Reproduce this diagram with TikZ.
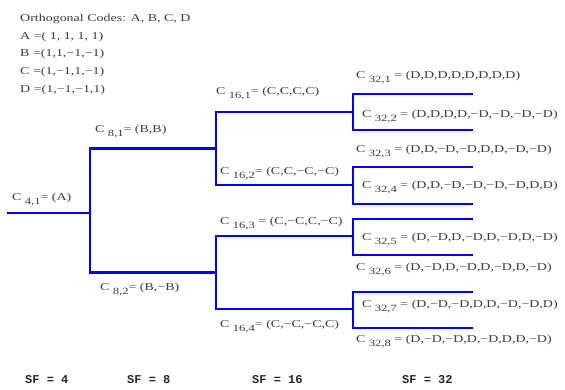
\documentclass[tikz,border=0pt]{standalone}
\usepackage{fontspec}
\setmainfont{Liberation Serif}
\newfontfamily\sfmono{Liberation Mono}
\usepackage{graphicx}
\definecolor{treeblue}{RGB}{0,0,255}
\definecolor{labelgray}{RGB}{60,60,60}
% stretched serif text used for all code labels
\newcommand{\wide}[1]{\scalebox{1.33}[1]{#1}}
% code label: C, lowered index, then the sequence
\newcommand{\code}[2]{\wide{C\hspace{2.5pt}\raisebox{-4pt}{\fontsize{9.5}{10}\selectfont #1}#2}}
\tikzset{
  branch/.style={draw=treeblue, line width=2.8pt, line join=miter},
  rootline/.style={draw=treeblue, line width=1.7pt},
  lbl/.style={anchor=base west, inner sep=0pt, text=labelgray, font=\fontsize{10.5}{12}\selectfont},
  sflbl/.style={anchor=base west, inner sep=0pt, text=black!85, font=\sfmono\bfseries\fontsize{12}{14}\selectfont},
}
\begin{document}
\begin{tikzpicture}[x=1pt, y=-1pt]
\useasboundingbox (0,0) rectangle (565,389);

% legend of the four orthogonal codes
\node[lbl] (legT) at (20,21) {\wide{Orthogonal Codes: A, B, C, D}};
\node[lbl] (legA) at (20,39) {\wide{A =( 1, 1, 1, 1)}};
\node[lbl] (legB) at (20,56) {\wide{B =(1,1,−1,−1)}};
\node[lbl] (legC) at (20,74) {\wide{C =(1,−1,1,−1)}};
\node[lbl] (legD) at (20,92) {\wide{D =(1,−1,−1,1)}};

% junctions of the code tree
\coordinate (r0) at (7,213);
\coordinate (j4) at (90,213);
\coordinate (j8a) at (216,148.5);
\coordinate (j8b) at (216,272.5);
\coordinate (k1) at (353,112);
\coordinate (k2) at (353,185);
\coordinate (k3) at (353,236);
\coordinate (k4) at (353,309);
% leaf ends
\coordinate (l1) at (473,94);
\coordinate (l2) at (473,130);
\coordinate (l3) at (473,167);
\coordinate (l4) at (473,204);
\coordinate (l5) at (473,219);
\coordinate (l6) at (473,255);
\coordinate (l7) at (473,292);
\coordinate (l8) at (473,328);

\draw[rootline] (r0) -- (j4);
\draw[branch] (j4) |- (j8a);
\draw[branch] (j4) |- (j8b);
\draw[branch] (j8a) |- (k1);
\draw[branch] (j8a) |- (k2);
\draw[branch] (j8b) |- (k3);
\draw[branch] (j8b) |- (k4);
\draw[branch] (k1) |- (l1);
\draw[branch] (k1) |- (l2);
\draw[branch] (k2) |- (l3);
\draw[branch] (k2) |- (l4);
\draw[branch] (k3) |- (l5);
\draw[branch] (k3) |- (l6);
\draw[branch] (k4) |- (l7);
\draw[branch] (k4) |- (l8);

% code labels
\node[lbl] (c41) at (12,200) {\code{4,1}{= (A)}};
\node[lbl] (c81) at (95,132) {\code{8,1}{= (B,B)}};
\node[lbl] (c82) at (100,290) {\code{8,2}{= (B,−B)}};
\node[lbl] (c161) at (216,94) {\code{16,1}{= (C,C,C,C)}};
\node[lbl] (c162) at (220,174) {\code{16,2}{= (C,C,−C,−C)}};
\node[lbl] (c163) at (220,224) {\code{16,3}{ = (C,−C,C,−C)}};
\node[lbl] (c164) at (220,327) {\code{16,4}{= (C,−C,−C,C)}};
\node[lbl] (c321) at (356,78) {\code{32,1}{ = (D,D,D,D,D,D,D,D)}};
\node[lbl] (c322) at (362,117) {\code{32,2}{ = (D,D,D,D,−D,−D,−D,−D)}};
\node[lbl] (c323) at (356,152) {\code{32,3}{ = (D,D,−D,−D,D,D,−D,−D)}};
\node[lbl] (c324) at (362,188) {\code{32,4}{ = (D,D,−D,−D,−D,−D,D,D)}};
\node[lbl] (c325) at (362,240) {\code{32,5}{ = (D,−D,D,−D,D,−D,D,−D)}};
\node[lbl] (c326) at (356,270) {\code{32,6}{ = (D,−D,D,−D,D,−D,D,−D)}};
\node[lbl] (c327) at (362,307) {\code{32,7}{ = (D,−D,−D,D,D,−D,−D,D)}};
\node[lbl] (c328) at (356,342) {\code{32,8}{ = (D,−D,−D,D,−D,D,D,−D)}};

% spreading factor of each tree level
\node[sflbl] (sf4) at (25,383) {SF = 4};
\node[sflbl] (sf8) at (127,383) {SF = 8};
\node[sflbl] (sf16) at (252,383) {SF = 16};
\node[sflbl] (sf32) at (402,383) {SF = 32};
\end{tikzpicture}
\end{document}
